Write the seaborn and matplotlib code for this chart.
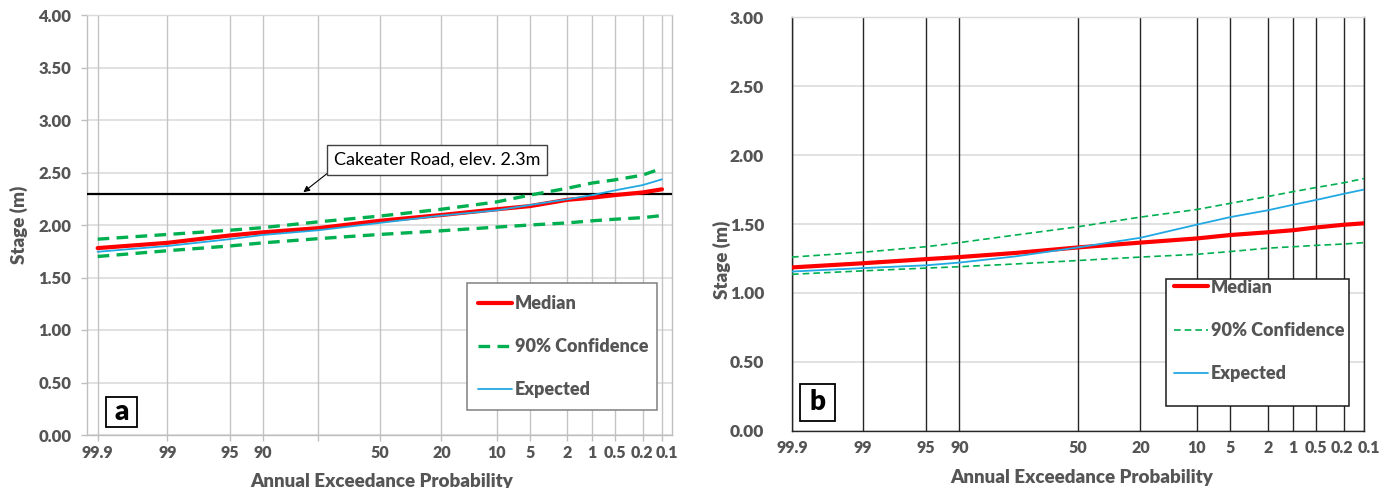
import matplotlib
matplotlib.use("Agg")
import matplotlib.pyplot as plt
from matplotlib.lines import Line2D
from matplotlib.patches import Rectangle
from matplotlib.transforms import ScaledTranslation
import seaborn as sns
from statistics import NormalDist

sns.set_theme(style="white")
plt.rcParams['font.family'] = ['Lato', 'DejaVu Sans']

# Annual exceedance probabilities (%) at which the curves are tabulated
aep = [99.9, 99, 95, 90, 75, 50, 25, 10, 5, 2, 1, 0.5, 0.2, 0.1]

# Probability-axis gridlines and their labels
grid_aep_a = [99.9, 99, 95, 90, 75, 50, 25, 10, 5, 2, 1, 0.5, 0.2, 0.1]
grid_lbl_a = ['99.9', '99', '95', '90', '', '50', '20', '10', '5', '2', '1', '0.5', '0.2', '0.1']
grid_aep_b = [99.9, 99, 95, 90, 50, 25, 10, 5, 2, 1, 0.5, 0.2, 0.1]
grid_lbl_b = ['99.9', '99', '95', '90', '50', '20', '10', '5', '2', '1', '0.5', '0.2', '0.1']

# Panel a: stage-frequency curves (m)
median_a = [1.78, 1.83, 1.90, 1.93, 1.97, 2.04, 2.095, 2.15, 2.18, 2.24, 2.26, 2.285, 2.31, 2.34]
expected_a = [1.745, 1.80, 1.865, 1.905, 1.95, 2.02, 2.09, 2.14, 2.19, 2.245, 2.285, 2.33, 2.38, 2.435]
upper_a = [1.865, 1.91, 1.95, 1.975, 2.03, 2.085, 2.15, 2.22, 2.285, 2.35, 2.40, 2.43, 2.475, 2.54]
lower_a = [1.70, 1.755, 1.80, 1.83, 1.87, 1.91, 1.945, 1.98, 2.00, 2.02, 2.04, 2.055, 2.07, 2.09]
road_elev = 2.3
road_label = "Cakeater Road, elev. 2.3m"

# Panel b: stage-frequency curves (m)
median_b = [1.185, 1.215, 1.245, 1.26, 1.29, 1.33, 1.365, 1.395, 1.42, 1.44, 1.455, 1.475, 1.495, 1.505]
expected_b = [1.155, 1.18, 1.20, 1.22, 1.265, 1.33, 1.40, 1.495, 1.55, 1.60, 1.64, 1.675, 1.72, 1.75]
upper_b = [1.26, 1.295, 1.335, 1.365, 1.42, 1.48, 1.55, 1.605, 1.65, 1.70, 1.735, 1.765, 1.80, 1.83]
lower_b = [1.135, 1.16, 1.18, 1.19, 1.21, 1.235, 1.26, 1.28, 1.30, 1.325, 1.335, 1.345, 1.355, 1.365]

yticks_a = [0, 0.5, 1.0, 1.5, 2.0, 2.5, 3.0, 3.5, 4.0]
yticks_b = [0, 0.5, 1.0, 1.5, 2.0, 2.5, 3.0]
series_names = ['Median', '90% Confidence', 'Expected']

RED = '#ff0000'
GREEN = '#00b050'
BLUE = '#22a9e3'
GRAY_TXT = '#555555'
HEAVY = 800

_nd = NormalDist()


def to_z(p):
    """Standard normal variate for an exceedance probability in percent."""
    return _nd.inv_cdf(1 - p / 100.0)


z = [to_z(p) for p in aep]

fig = plt.figure(figsize=(13.89, 4.88), dpi=100)
W, H = 1389, 488
ax_a = fig.add_axes([86.7 / W, 1 - 435 / H, 585.3 / W, 420 / H])
ax_b = fig.add_axes([792 / W, 1 - 430.7 / H, 572 / W, 413.4 / H])


def nudge(label, dx_px):
    label.set_transform(label.get_transform() + ScaledTranslation(dx_px / 100, 0, fig.dpi_scale_trans))


def style_axes(ax, grid_aep, grid_lbl, yticks, ymax, vcol, spine_col, xlim, tick_len, ysize):
    ax.set_xlim(*xlim)
    ax.set_ylim(0, ymax)
    gz = [to_z(p) for p in grid_aep]
    ax.set_xticks(gz)
    ax.set_xticklabels(grid_lbl)
    ax.set_yticks(yticks)
    ax.set_yticklabels([f"{v:.2f}" for v in yticks])
    for g in gz:
        ax.axvline(g, color=vcol, lw=1.0, zorder=0.5)
    for y in yticks:
        ax.axhline(y, color='#d9d9d9', lw=1.1, zorder=0.4)
    for s in ax.spines.values():
        s.set_color(spine_col)
        s.set_linewidth(1.0)
    ax.spines['top'].set_color('#d9d9d9')
    ax.tick_params(axis='x', bottom=True, length=tick_len, width=1.0, color=spine_col,
                   labelsize=11.5, labelcolor=GRAY_TXT)
    ax.tick_params(axis='y', labelsize=ysize, labelcolor=GRAY_TXT)
    for t in ax.get_xticklabels() + ax.get_yticklabels():
        t.set_fontweight(HEAVY)
    ax.set_xlabel("Annual Exceedance Probability", fontsize=13.5, fontweight=HEAVY, color=GRAY_TXT)
    ax.set_ylabel("Stage (m)", fontsize=13.5, fontweight=HEAVY, color=GRAY_TXT)


def panel_tag(ax, letter, cx, cy, w, h):
    ax.add_patch(Rectangle((cx - w / 2, cy - h / 2), w, h, transform=ax.transAxes,
                           fc='white', ec='black', lw=1.3, zorder=6))
    ax.text(cx, cy, letter, transform=ax.transAxes, ha='center', va='center',
            fontsize=20, fontweight=HEAVY, color='black', zorder=7)


def boxed_legend(ax, handles, x0, y0, w, h, text_yc, edge, pad):
    ax.add_patch(Rectangle((x0, y0), w, h, transform=ax.transAxes, fc='white',
                           ec=edge, lw=1.1, zorder=8))
    leg = ax.legend(handles, series_names, loc='center',
                    bbox_to_anchor=(x0, text_yc, w, 0), mode='expand',
                    fontsize=13, frameon=False, borderpad=pad, labelspacing=1.45,
                    handlelength=1.9, handletextpad=0.13, borderaxespad=0)
    for t in leg.get_texts():
        t.set_color(GRAY_TXT)
        t.set_fontweight(HEAVY)
    leg.set_zorder(9)
    return leg


# ---------------- Panel a ----------------
style_axes(ax_a, grid_aep_a, grid_lbl_a, yticks_a, 4.0, '#c4c4c4', '#bfbfbf',
           (-3.21, 3.20), 4, 12)
ax_a.tick_params(axis='y', left=True, length=4.3, width=1.0, color='#bfbfbf', pad=6.7)
ax_a.tick_params(axis='x', pad=3)
ax_a.axhline(road_elev, color='black', lw=1.6, zorder=3)
dash_a = (0, (3.5, 2.2))
sns.lineplot(x=z, y=upper_a, ax=ax_a, color=GREEN, lw=2.4, linestyle=dash_a, zorder=4)
sns.lineplot(x=z, y=lower_a, ax=ax_a, color=GREEN, lw=2.4, linestyle=dash_a, zorder=4)
sns.lineplot(x=z, y=median_a, ax=ax_a, color=RED, lw=3.0, zorder=5)
sns.lineplot(x=z, y=expected_a, ax=ax_a, color=BLUE, lw=1.3, zorder=5)

ax_a.annotate(road_label, xy=(-0.855, road_elev), xytext=(0.631, 2.62),
              ha='center', va='center', fontsize=13, color='black',
              bbox=dict(boxstyle='square,pad=0.38', fc='white', ec='#404040', lw=1.0),
              arrowprops=dict(arrowstyle='-|>', color='black', lw=0.8, relpos=(0, 0),
                              mutation_scale=9, shrinkA=0, shrinkB=1.5),
              zorder=8)

handles_a = [
    Line2D([], [], color=RED, lw=3.0),
    Line2D([], [], color=GREEN, lw=2.4, linestyle=dash_a),
    Line2D([], [], color=BLUE, lw=1.3),
]
boxed_legend(ax_a, handles_a, 0.650, 0.0595, 0.3246, 0.303, 0.210, '#808080', 0.6)
panel_tag(ax_a, 'a', 0.059, 0.0548, 31 / 585.3, 30.6 / 420)
ax_a.xaxis.set_label_coords(0.5045, -0.090)
ax_a.yaxis.set_label_coords(-0.1003, 0.5)
xt_a = ax_a.get_xticklabels()
nudge(xt_a[-2], -1)
nudge(xt_a[-1], 5)

# ---------------- Panel b ----------------
style_axes(ax_b, grid_aep_b, grid_lbl_b, yticks_b, 3.0, '#262626', '#262626',
           (to_z(99.9), to_z(0.1)), 0, 12.5)
ax_b.tick_params(axis='y', left=False, pad=14)
ax_b.tick_params(axis='x', pad=6.5)
dash_b = (0, (4.0, 2.4))
sns.lineplot(x=z, y=upper_b, ax=ax_b, color=GREEN, lw=1.2, linestyle=dash_b, zorder=4)
sns.lineplot(x=z, y=lower_b, ax=ax_b, color=GREEN, lw=1.2, linestyle=dash_b, zorder=4)
sns.lineplot(x=z, y=median_b, ax=ax_b, color=RED, lw=3.0, zorder=5)
sns.lineplot(x=z, y=expected_b, ax=ax_b, color=BLUE, lw=1.3, zorder=6)

handles_b = [
    Line2D([], [], color=RED, lw=3.0),
    Line2D([], [], color=GREEN, lw=1.2, linestyle=dash_b),
    Line2D([], [], color=BLUE, lw=1.3),
]
boxed_legend(ax_b, handles_b, 0.654, 0.0597, 0.32, 0.307, 0.2424, '#1a1a1a', 0.44)
panel_tag(ax_b, 'b', 0.0446, 0.0687, 35 / 572, 36.7 / 413.4)
ax_b.xaxis.set_label_coords(0.507, -0.092)
ax_b.yaxis.set_label_coords(-0.1066, 0.413)
xt_b = ax_b.get_xticklabels()
nudge(xt_b[-2], -2)
nudge(xt_b[-1], 4.5)

fig.savefig("out.png", dpi=100)
